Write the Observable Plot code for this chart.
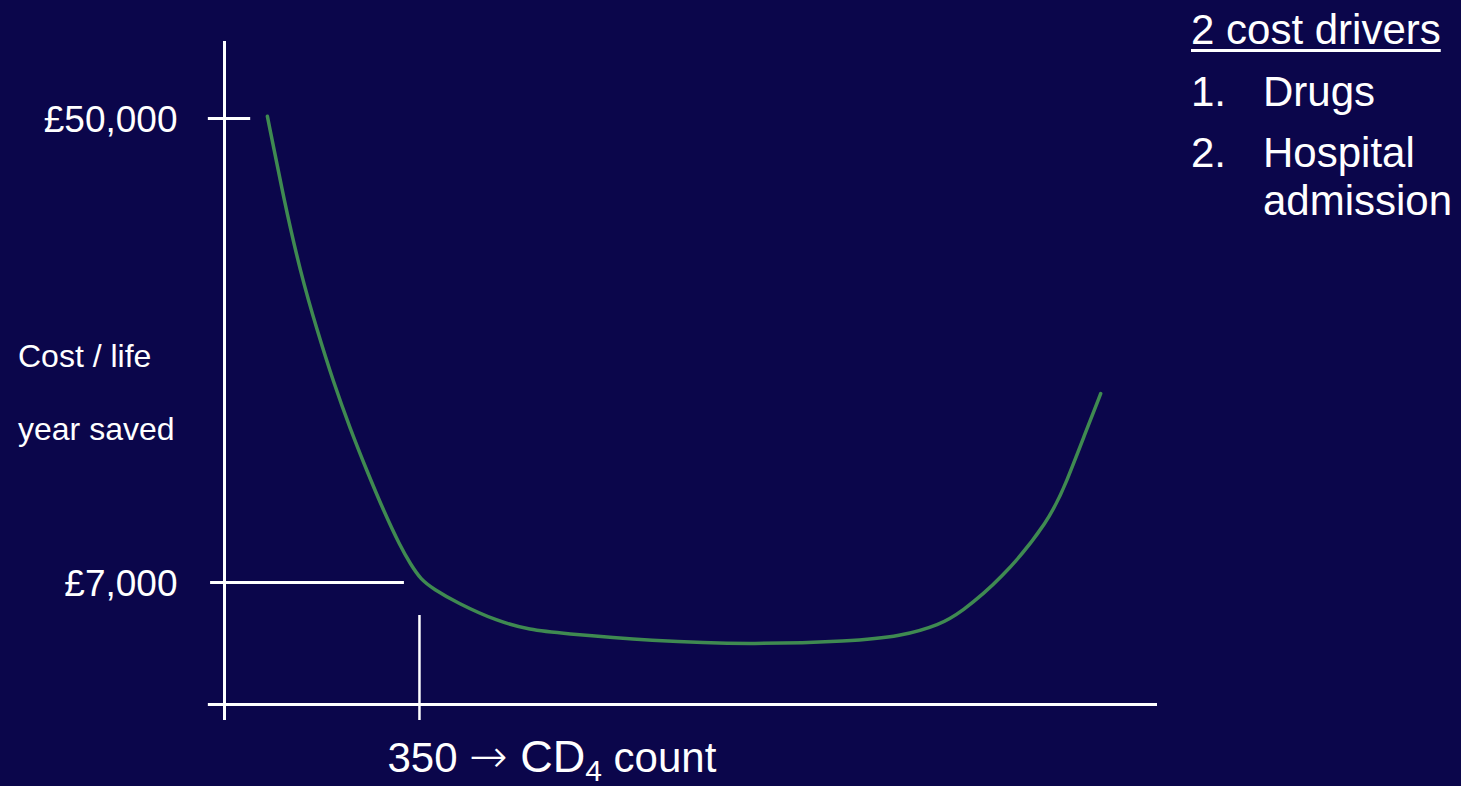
<!DOCTYPE html>
<html>
<head>
<meta charset="utf-8">
<script src="https://cdn.jsdelivr.net/npm/d3@7"></script>
<script src="https://cdn.jsdelivr.net/npm/@observablehq/plot@0.6"></script>
<style>
  html, body { margin: 0; padding: 0; background: #0b064b; }
  #stage { position: relative; width: 1461px; height: 786px; overflow: hidden;
           font-family: "Liberation Sans", Arial, Helvetica, sans-serif; color: #ffffff; }
  #stage svg { position: absolute; left: 0; top: 0; }
  .note { position: absolute; white-space: nowrap; }
  .ylab { font-size: 32px; line-height: 32px; left: 18px; }
  .side { font-size: 42px; line-height: 42px; }
  .side.head { text-decoration: underline; text-decoration-thickness: 3px; text-underline-offset: 5px; }
</style>
</head>
<body>
<div id="stage">
  <div class="note ylab" style="top:340px">Cost / life</div>
  <div class="note ylab" style="top:413px">year saved</div>
  <div class="note side head" style="left:1191px; top:9px">2 cost drivers</div>
  <div class="note side" style="left:1191px; top:71px">1.</div>
  <div class="note side" style="left:1263px; top:71px">Drugs</div>
  <div class="note side" style="left:1191px; top:132px">2.</div>
  <div class="note side" style="left:1263px; top:132px">Hospital</div>
  <div class="note side" style="left:1263px; top:180px">admission</div>
</div>
<script>
// CD4 count (cells/mm³) along the curve
const cd4 = [77, 107, 136, 166, 196, 226, 256, 286, 316, 334, 352, 375, 418, 490, 549, 603, 765, 944, 1124, 1214, 1285, 1321, 1393, 1481, 1513, 1542, 1573];
// Cost per life year saved (£) at each CD4 count
const cost = [50200, 42400, 35800, 30400, 25500, 21200, 17300, 13600, 10300, 8700, 7300, 6400, 5100, 3400, 2600, 2300, 1600, 1250, 1550, 2000, 3100, 4200, 7200, 12700, 16500, 20400, 24500];
// Labelled cost levels and the labelled CD4 threshold
const costTicks = [50000, 7000];
const cd4Ticks = [350];

const curveData = cd4.map((c, i) => ({cd4: c, cost: cost[i]}));

// Scale extents: axes cross at the lower-left corner of the frame
const cd4Domain = [0, 1675];
const costDomain = [-4306, 57134];
const costFloor = costDomain[0];
const cd4Overhang = -29;      // horizontal lines poke left past the cost axis
const costOverhang = -5790;   // vertical lines poke below the CD4 axis

const white = "#ffffff";
const green = "#3f8a51";

const chart = Plot.plot({
  width: 1461,
  height: 786,
  marginLeft: 224,
  marginRight: 304,
  marginTop: 41,
  marginBottom: 82,
  x: {domain: cd4Domain, label: null},
  y: {domain: costDomain, label: null},
  style: {background: "transparent", color: white, fontFamily: "'Liberation Sans', Arial, sans-serif", overflow: "visible"},
  marks: [
    // cost axis and CD4 axis
    Plot.ruleX([0], {y1: costOverhang, y2: costDomain[1], stroke: white, strokeWidth: 3}),
    Plot.ruleY([costFloor], {x1: cd4Overhang, x2: cd4Domain[1], stroke: white, strokeWidth: 3}),
    // £50,000 tick crossing the axis
    Plot.ruleY([costTicks[0]], {x1: cd4Overhang, x2: 47, stroke: white, strokeWidth: 3}),
    // £7,000 guide running out towards the curve
    Plot.ruleY([costTicks[1]], {x1: -25, x2: 323, stroke: white, strokeWidth: 3}),
    // CD4 350 threshold tick
    Plot.ruleX(cd4Ticks, {y1: costOverhang, y2: 3940, stroke: white, strokeWidth: 2.5}),
    // cost-effectiveness curve
    Plot.line(curveData, {x: "cd4", y: "cost", curve: "basis", stroke: green, strokeWidth: 3.5}),
    Plot.axisY({ticks: costTicks, tickFormat: d => "£" + d3.format(",")(d), tickSize: 0, tickPadding: 47, fontSize: 37, dy: 2, label: null}),
    Plot.axisX({ticks: cd4Ticks, tickFormat: d => `${d} → CD4 count`, tickSize: 0, tickPadding: 38, fontSize: 42, textAnchor: "start", dx: -32, label: null})
  ]
});

document.getElementById("stage").prepend(chart);

// Thin long arrow and subscript "4" in the CD4 label
d3.select(chart).selectAll("text").each(function () {
  const t = d3.select(this);
  const s = t.text();
  if (!s.includes("CD4")) return;
  const value = s.split(" ")[0];
  t.text(null);
  t.append("tspan").text(value + " ");
  t.append("tspan").attr("font-family", "'DejaVu Sans', sans-serif").attr("font-weight", 200).attr("font-size", 46).text("→");
  t.append("tspan").attr("font-size", 45).text(" CD");
  t.append("tspan").attr("font-size", 30).attr("dy", 9).text("4");
  t.append("tspan").attr("font-size", 42).attr("dy", -9).text(" count");
});
</script>
</body>
</html>
